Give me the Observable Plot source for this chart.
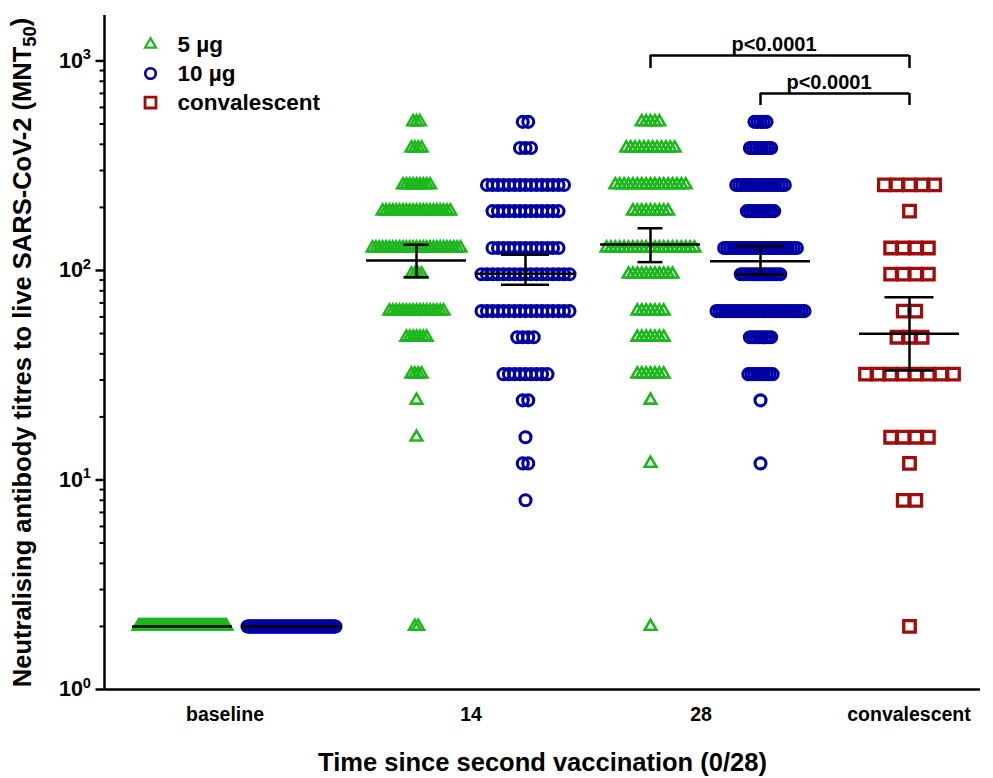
<!DOCTYPE html>
<html><head><meta charset="utf-8">
<script src="https://cdn.jsdelivr.net/npm/d3@7"></script>
<script src="https://cdn.jsdelivr.net/npm/@observablehq/plot@0.6"></script>
<style>
body{margin:0;background:#fff;}
#chart{width:993px;height:778px;}
</style>
</head><body><div id="chart"></div>
<script>
// ---------------- data ----------------
const timepoints = ["baseline", "14", "28", "convalescent"];
const groups = ["5 µg", "10 µg", "convalescent"];
const groupColors = ["#1cb71c", "#0000a3", "#a00c0c"];
const groupSymbols = ["triangle", "circle", "square"];
const titreLevels = [2, 8, 12, 16, 24, 32, 48, 64, 96, 128, 192, 256, 384, 512];
// number of participants at each titre level (aligned with titreLevels)
const countsBaseline5  = [100, 0, 0, 0, 0, 0, 0, 0, 0, 0, 0, 0, 0, 0];
const countsBaseline10 = [100, 0, 0, 0, 0, 0, 0, 0, 0, 0, 0, 0, 0, 0];
const countsDay14_5    = [2, 0, 0, 1, 1, 4, 7, 17, 4, 27, 21, 9, 4, 3];
const countsDay14_10   = [0, 1, 2, 1, 2, 9, 4, 17, 17, 13, 13, 15, 3, 2];
const countsDay28_5    = [1, 0, 1, 0, 1, 7, 7, 7, 11, 21, 9, 17, 12, 5];
const countsDay28_10   = [0, 0, 1, 0, 1, 9, 8, 30, 14, 25, 10, 17, 8, 5];
const countsConv       = [1, 2, 1, 4, 0, 8, 3, 2, 4, 4, 1, 5, 0, 0];
const columnTime  = ["baseline", "baseline", "14", "14", "28", "28", "convalescent"];
const columnGroup = ["5 µg", "10 µg", "5 µg", "10 µg", "5 µg", "10 µg", "convalescent"];
const columnCounts = [countsBaseline5, countsBaseline10, countsDay14_5, countsDay14_10, countsDay28_5, countsDay28_10, countsConv];
// geometric mean and 95% CI per column
const geoMean = [2, 2, 111.6, 96.5, 133, 110.8, 49.9];
const ciLow   = [null, null, 92.9, 85.5, 109.6, 95.7, 33.3];
const ciHigh  = [null, null, 132.7, 118.8, 159, 130.7, 74.6];
// significance brackets: from column -> to column
const bracketFrom = [4, 5];
const bracketTo = [6, 6];
const bracketLabel = ["p<0.0001", "p<0.0001"];
const bracketLevel = [1062, 700];
const bracketTickEnd = [920, 613];

// ---------------- layout (x in layout units of the plot) ----------------
const W = 993, H = 778;
const mL = 104, mR = 13, mT = 15, mB = 89;
const xDomain = [mL, W - mR];
const yDomain = [1, 1648];
const colX = [182, 291, 416, 525, 650, 760, 909];
const tickX = [224.5, 470.5, 700.5, 908.5];
const rowSpread = 88;
const meanHalf = 50;
const capHalf = {"5 µg": 12.5, "10 µg": 24, "convalescent": 24.5};
const symR = {"5 µg": 4.3, "10 µg": 5.5, "convalescent": 6.5};
const symSW = {"5 µg": 2.6, "10 µg": 3.1, "convalescent": 3.3};

const points = [];
columnCounts.forEach((counts, c) => {
  const nmax = d3.max(counts);
  const s = nmax > 1 ? rowSpread / (nmax - 1) : 0;
  counts.forEach((n, k) => {
    for (let i = 0; i < n; i++) {
      points.push({group: columnGroup[c], value: titreLevels[k], x: colX[c] + (i - (n - 1) / 2) * s});
    }
  });
});

const stats = geoMean.map((g, c) => ({x: colX[c], group: columnGroup[c], gm: g, lo: ciLow[c], hi: ciHigh[c]}));
const statsCI = stats.filter(d => d.lo != null);
const brackets = bracketFrom.map((f, i) => ({x1: colX[f], x2: colX[bracketTo[i]], y: bracketLevel[i], yEnd: bracketTickEnd[i], label: bracketLabel[i]}));

const minorTicks = [];
for (let e = 0; e < 3; e++) for (let m = 2; m <= 9; m++) minorTicks.push(m * 10 ** e);

const font = "'Liberation Sans', Arial, Helvetica, sans-serif";

const dotMarks = groups.map((g, gi) => Plot.dot(points.filter(p => p.group === g), {
  x: "x", y: "value", symbol: () => groupSymbols[gi], stroke: groupColors[gi], fill: "none",
  r: symR[g], strokeWidth: symSW[g]
}));

const legendMarks = groups.flatMap((g, gi) => [
  Plot.dot([g], {frameAnchor: "top-left", dx: 46, dy: 29 + gi * 29, symbol: () => groupSymbols[gi],
    stroke: groupColors[gi], fill: "none", r: symR[g] * 0.95, strokeWidth: symSW[g] * 0.85}),
  Plot.text([g], {frameAnchor: "top-left", dx: 73, dy: 29 + gi * 29, text: d => d, textAnchor: "start",
    lineAnchor: "middle", fontSize: 22.5, fontWeight: "bold", fill: "#000"})
]);

const chart = Plot.plot({
  width: W, height: H,
  marginLeft: mL, marginRight: mR, marginTop: mT, marginBottom: mB,
  style: {fontFamily: font, fontWeight: "bold", fontSize: "18px", color: "#000", background: "#fff"},
  x: {type: "linear", domain: xDomain, axis: null},
  y: {type: "log", domain: yDomain, axis: null},
  marks: [
    Plot.axisY({ticks: minorTicks, tickSize: 4.5, strokeWidth: 2, tickFormat: () => "", label: null}),
    Plot.axisY({ticks: [1, 10, 100, 1000], tickSize: 8.5, strokeWidth: 2.5, tickPadding: 5,
      tickFormat: d => `10^${Math.round(Math.log10(d))}`, fontSize: 21.5, fontWeight: "bold", label: null}),
    Plot.axisX({ticks: tickX, tickSize: 0, tickPadding: 18, fontSize: 19.5, fontWeight: "bold",
      tickFormat: d => timepoints[tickX.indexOf(d)], label: null}),
    Plot.ruleX([xDomain[0]], {stroke: "#000", strokeWidth: 2.5}),
    Plot.ruleY([yDomain[0]], {stroke: "#000", strokeWidth: 2.5}),
    ...dotMarks,
    // geometric mean lines
    Plot.ruleY(stats, {x1: d => d.x - meanHalf, x2: d => d.x + meanHalf, y: "gm", stroke: "#000", strokeWidth: 2.5}),
    // CI whiskers and caps
    Plot.ruleX(statsCI, {x: "x", y1: "lo", y2: "hi", stroke: "#000", strokeWidth: 2.5}),
    Plot.ruleY(statsCI, {x1: d => d.x - capHalf[d.group], x2: d => d.x + capHalf[d.group], y: "lo", stroke: "#000", strokeWidth: 2.5}),
    Plot.ruleY(statsCI, {x1: d => d.x - capHalf[d.group], x2: d => d.x + capHalf[d.group], y: "hi", stroke: "#000", strokeWidth: 2.5}),
    // significance brackets
    Plot.ruleY(brackets, {x1: "x1", x2: "x2", y: "y", stroke: "#000", strokeWidth: 2.5}),
    Plot.ruleX(brackets, {x: "x1", y1: "y", y2: "yEnd", stroke: "#000", strokeWidth: 2.5}),
    Plot.ruleX(brackets, {x: "x2", y1: "y", y2: "yEnd", stroke: "#000", strokeWidth: 2.5}),
    Plot.text(brackets, {x: d => (d.x1 + d.x2) / 2 - 6, y: "y", text: "label", lineAnchor: "bottom", dy: -4,
      fontSize: 20, fontWeight: "bold", fill: "#000"}),
    ...legendMarks,
    // axis titles
    Plot.text(["Time since second vaccination (0/28)"], {frameAnchor: "bottom", dy: 73, text: d => d,
      lineAnchor: "middle", textAnchor: "middle", fontSize: 25.5, fontWeight: "bold", fill: "#000"}),
    Plot.text(["Neutralising antibody titres to live SARS-CoV-2 (MNT"], {frameAnchor: "left", dx: -82, rotate: -90,
      text: d => d, lineAnchor: "middle", textAnchor: "middle", fontSize: 25.5, fontWeight: "bold", fill: "#000"})
  ]
});

// superscripts on y tick labels, subscript in y title
d3.select(chart).selectAll("text").each(function () {
  const txt = this.textContent;
  const m = txt.match(/^10\^(\d)$/);
  if (m) {
    this.textContent = "10";
    d3.select(this).append("tspan").attr("dy", "-0.6em").attr("font-size", "0.68em").text(m[1]);
  } else if (txt.startsWith("Neutralising")) {
    const t = d3.select(this);
    t.append("tspan").attr("dy", "0.3em").attr("font-size", "0.72em").text("50");
    t.append("tspan").attr("dy", "-0.3em").text(")");
  }
});

document.getElementById("chart").appendChild(chart);
</script>
</body></html>
